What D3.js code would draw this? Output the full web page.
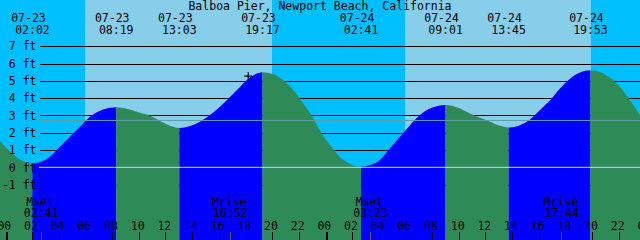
<!DOCTYPE html>
<html>
<head>
<meta charset="utf-8">
<script src="https://cdn.jsdelivr.net/npm/d3@7"></script>
<style>
  html, body { margin: 0; padding: 0; background: #fff; }
  svg { display: block; }
  text { font-family: "DejaVu Sans Mono", monospace; font-size: 11.5px; fill: #000; }
</style>
</head>
<body>
<div id="chart"></div>
<script>
// 站点标题
const stationTitle = 'Balboa Pier, Newport Beach, California';

// 潮汐极值 (日期, 时间, 高度 ft)
const tideDates = ['07-23', '07-23', '07-23', '07-23', '07-24', '07-24', '07-24', '07-24'];
const tideTimes = ['02:02', '08:19', '13:03', '19:17', '02:41', '09:01', '13:45', '19:53'];
const tideFeet  = [0.22, 3.48, 2.28, 5.50, 0.03, 3.61, 2.31, 5.61];
const tideKinds = ['low', 'high', 'low', 'high', 'low', 'high', 'low', 'high'];

// 曲线读数 (相对 07-23 00:00 的小时数, 高度 ft)
const sampleHours = [-0.40, 0.35, 1.10, 3.35, 4.10, 4.85, 5.60, 6.35, 7.10, 7.85,
  9.35, 10.10, 10.85, 11.60, 12.35, 14.60, 15.35, 16.10, 16.85, 17.60, 18.35,
  20.10, 20.85, 21.60, 22.35, 23.10, 23.60, 24.35, 25.10, 25.85,
  27.35, 28.10, 28.85, 29.60, 30.35, 31.10, 31.85, 34.10, 34.85, 35.60,
  36.35, 37.10, 38.60, 39.35, 40.10, 40.85, 41.60, 42.35, 43.10,
  44.60, 45.35, 46.10, 46.85, 47.60];
const sampleFeet = [1.52, 0.92, 0.45, 0.61, 1.19, 1.77, 2.34, 2.92, 3.27, 3.44,
  3.35, 3.15, 2.98, 2.68, 2.40, 2.63, 3.02, 3.50, 4.07, 4.65, 5.19,
  5.38, 5.04, 4.46, 3.69, 2.83, 2.12, 1.29, 0.61, 0.19,
  0.13, 0.42, 1.10, 1.77, 2.44, 3.02, 3.40, 3.40, 3.11, 2.87,
  2.63, 2.40, 2.44, 2.77, 3.31, 3.88, 4.56, 5.13, 5.48,
  5.52, 5.19, 4.65, 3.88, 3.02];

// 日出日落
const sunDates = ['07-23', '07-24'];
const sunRise  = ['05:59', '05:59'];
const sunSet   = ['20:00', '19:55'];

// 月出月落
const moonNames = ['Mset', 'Mrise', 'Mset', 'Mrise'];
const moonDates = ['07-23', '07-23', '07-24', '07-24'];
const moonTimes = ['02:41', '16:52', '03:23', '17:44'];

// 平均水位, 当前时刻标记
const meanFeet = 2.71;
const markDate = '07-23', markTime = '18:13', markFeet = 5.27;

// 轴刻度
const feetTicks = [-1, 0, 1, 2, 3, 4, 5, 6, 7];
const hourTicks = [0, 2, 4, 6, 8, 10, 12, 14, 16, 18, 20, 22, 24, 26, 28, 30, 32, 34, 36, 38, 40, 42, 44, 46, 48];

const W = 640, H = 240;
const colors = { day: '#87ceeb', night: '#00bfff', rise: '#0000ff', fall: '#2e8b57', datum: '#b4e4f0', mean: '#5f9ea0' };

function hourOf(date, time) {
    const day = +date.slice(3) - 23;
    const [hh, mm] = time.split(':').map(Number);
    return day * 24 + hh + mm / 60;
}

const x = d3.scaleLinear().domain([0, 48]).range([5.33, 645.33]);
const y = d3.scaleLinear().domain([-1, 7]).range([184.6, 46.3]);

const svg = d3.select('#chart').append('svg')
    .attr('width', W).attr('height', H);

// 夜/昼背景
svg.append('rect').attr('width', W).attr('height', H).attr('fill', colors.night);
sunDates.forEach((d, i) => {
    const x0 = x(hourOf(d, sunRise[i])), x1 = x(hourOf(d, sunSet[i]));
    svg.append('rect').attr('x', x0).attr('y', 0).attr('width', x1 - x0).attr('height', H).attr('fill', colors.day);
});

// 网格线 (水面之下)
const gridG = svg.append('g').attr('transform', 'translate(39.5,0)')
    .call(d3.axisLeft(y).tickValues(feetTicks).tickSizeInner(-(W - 39.5)).tickSizeOuter(0).tickFormat(''));
gridG.select('.domain').remove();
gridG.selectAll('line').attr('stroke', '#000').attr('stroke-width', 1).attr('shape-rendering', 'crispEdges');

// 水体
const tidePts = tideTimes.map((t, i) => ({ h: hourOf(tideDates[i], t), ft: tideFeet[i] }))
    .concat(sampleHours.map((h, i) => ({ h: h, ft: sampleFeet[i] })))
    .sort((a, b) => a.h - b.h);

const area = d3.area()
    .x(d => x(d.h))
    .y0(H)
    .y1(d => y(d.ft))
    .curve(d3.curveMonotoneX);

svg.append('clipPath').attr('id', 'water')
    .append('path').datum(tidePts).attr('d', area);

const waterG = svg.append('g').attr('clip-path', 'url(#water)');
const bounds = [-2].concat(tideTimes.map((t, i) => hourOf(tideDates[i], t))).concat([50]);
for (let i = 0; i < bounds.length - 1; i++) {
    const endKind = i < tideKinds.length ? tideKinds[i] : 'low';
    const x0 = x(bounds[i]), x1 = x(bounds[i + 1]);
    waterG.append('rect')
        .attr('x', x0).attr('y', 0).attr('width', x1 - x0).attr('height', H)
        .attr('fill', endKind === 'high' ? colors.rise : colors.fall);
}

// 基准线与平均线
svg.append('line').attr('x1', 39).attr('x2', W).attr('y1', y(0)).attr('y2', y(0))
    .attr('stroke', colors.datum).attr('stroke-width', 1);
svg.append('line').attr('x1', 39).attr('x2', W).attr('y1', y(meanFeet)).attr('y2', y(meanFeet))
    .attr('stroke', colors.mean).attr('stroke-width', 1);

// 高度标签
const labelG = svg.append('g').attr('transform', 'translate(36.5,0)')
    .call(d3.axisLeft(y).tickValues(feetTicks).tickSize(0).tickPadding(0).tickFormat(d => d + ' ft'));
labelG.select('.domain').remove();
labelG.attr('font-family', null).attr('font-size', null);

// 标题
svg.append('text').attr('x', 320).attr('y', 10).attr('text-anchor', 'middle').text(stationTitle);

// 潮汐时间
tideTimes.forEach((t, i) => {
    const cx = x(hourOf(tideDates[i], t));
    svg.append('text').attr('x', cx - 4).attr('y', 22).attr('text-anchor', 'middle').text(tideDates[i]);
    svg.append('text').attr('x', cx).attr('y', 34).attr('text-anchor', 'middle').text(t);
});

// 月出月落
moonTimes.forEach((t, i) => {
    const cx = x(hourOf(moonDates[i], t));
    svg.append('text').attr('x', cx - 1).attr('y', 206).attr('text-anchor', 'middle').text(moonNames[i]);
    svg.append('text').attr('x', cx).attr('y', 217).attr('text-anchor', 'middle').text(t);
    svg.append('line').attr('x1', cx).attr('x2', cx).attr('y1', 232).attr('y2', H)
        .attr('stroke', '#555').attr('stroke-width', 1).attr('shape-rendering', 'crispEdges');
});

// 小时轴
const hourG = svg.append('g').attr('transform', `translate(0,${H})`)
    .call(d3.axisTop(x).tickValues(hourTicks).tickSize(8).tickPadding(2)
        .tickFormat(d => String(d % 24).padStart(2, '0')));
hourG.select('.domain').remove();
hourG.attr('font-family', null).attr('font-size', null);
hourG.selectAll('text').attr('dx', -1.5);
hourG.selectAll('line').attr('stroke', '#000').attr('shape-rendering', 'crispEdges');
hourG.selectAll('.tick').filter(d => d % 24 === 0).select('line')
    .attr('stroke-width', 2).attr('transform', 'translate(0.7,0)');

// 当前时刻 "+"
const mx = x(hourOf(markDate, markTime)), my = y(markFeet);
svg.append('path')
    .attr('d', `M${mx - 4},${my}H${mx + 4}M${mx},${my - 4}V${my + 4}`)
    .attr('stroke', '#000').attr('stroke-width', 1.2).attr('fill', 'none');
</script>
</body>
</html>
